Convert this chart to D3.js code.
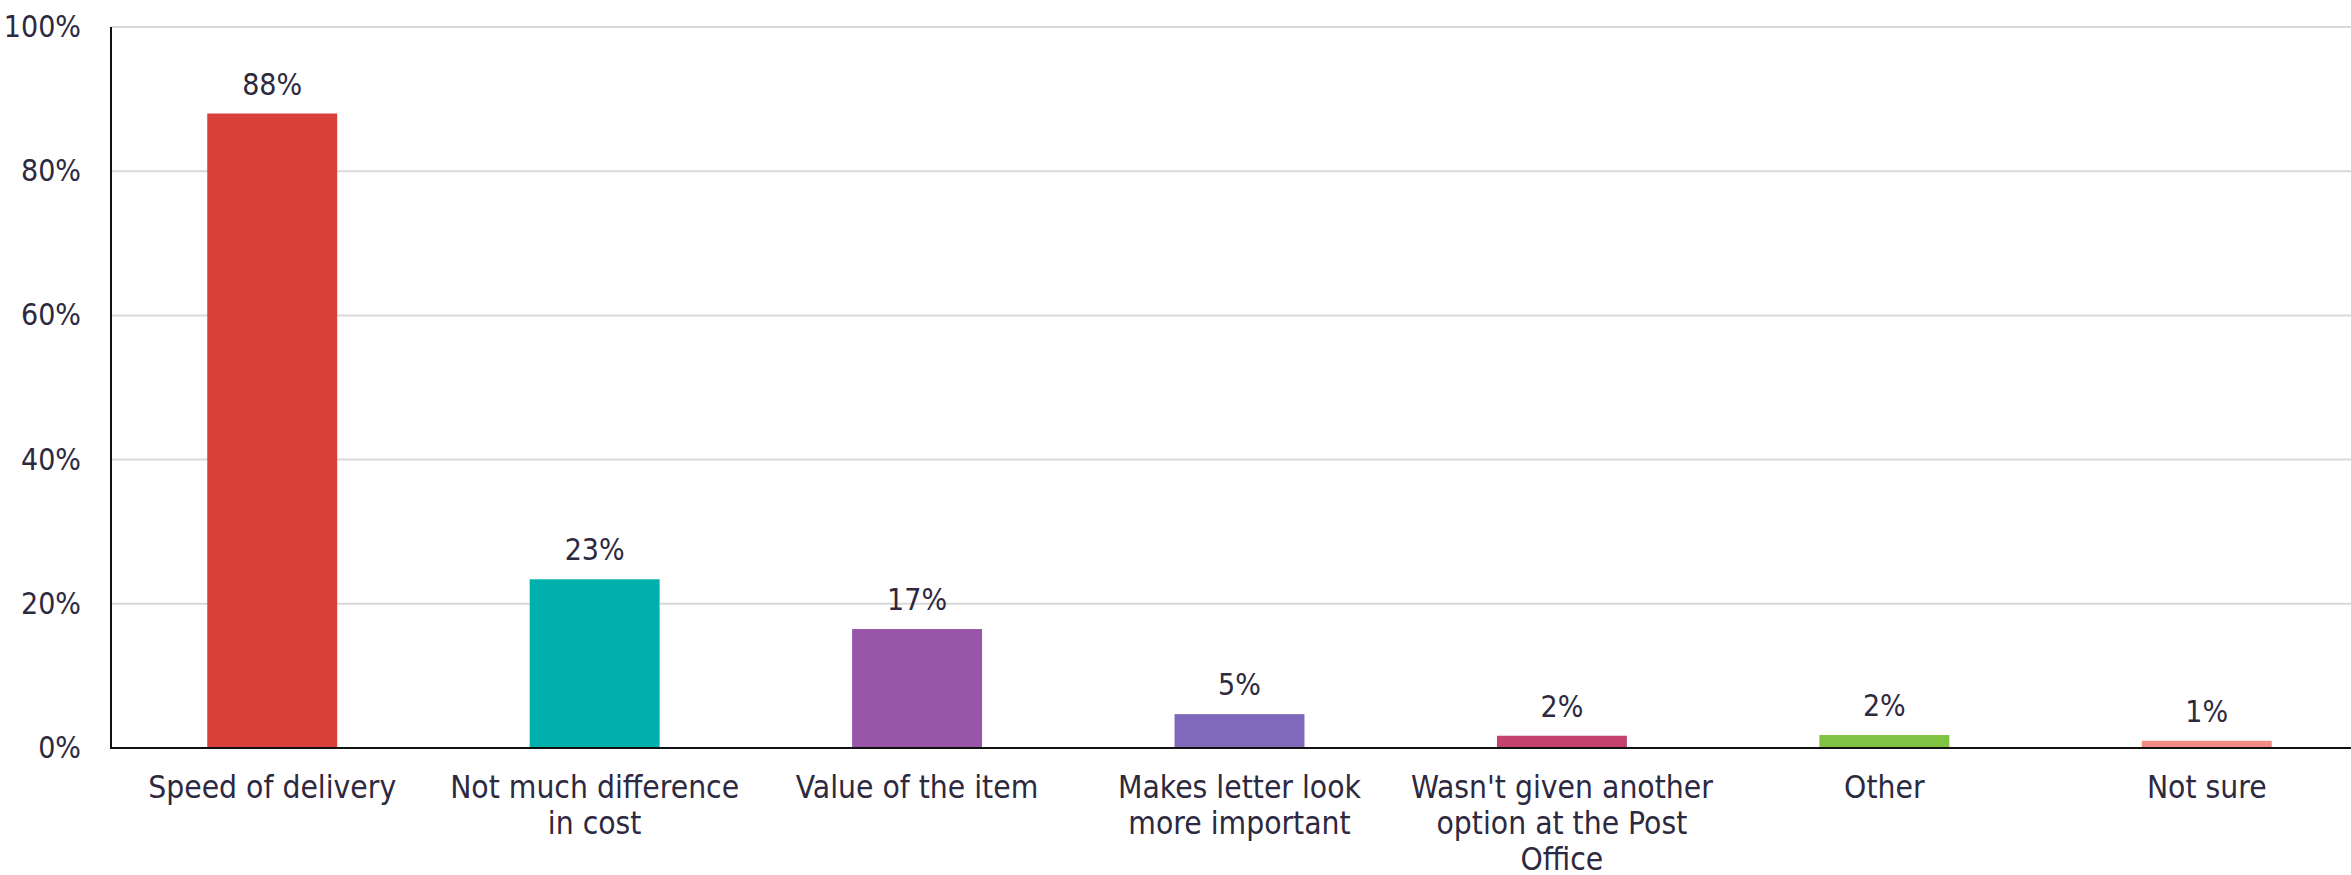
<!DOCTYPE html>
<html>
<head>
<meta charset="utf-8">
<script src="https://cdn.jsdelivr.net/npm/d3@7"></script>
<style>
  html, body { margin: 0; padding: 0; background: #ffffff; }
  svg { display: block; }
  text { font-family: "DejaVu Sans Condensed", "DejaVu Sans", sans-serif; fill: #2d2940; }
</style>
</head>
<body>
<svg id="chart" width="2351" height="875"></svg>
<script>
// ---- data ----
const categories = [
  "Speed of delivery",
  "Not much difference in cost",
  "Value of the item",
  "Makes letter look more important",
  "Wasn't given another option at the Post Office",
  "Other",
  "Not sure"
];
const categoryLines = [
  ["Speed of delivery"],
  ["Not much difference", "in cost"],
  ["Value of the item"],
  ["Makes letter look", "more important"],
  ["Wasn't given another", "option at the Post", "Office"],
  ["Other"],
  ["Not sure"]
];
const values = [88, 23.4, 16.5, 4.7, 1.7, 1.8, 1.0];
const valueLabels = ["88%", "23%", "17%", "5%", "2%", "2%", "1%"];
const barColors = ["#d9403a", "#00b0ad", "#9955a8", "#8069bb", "#c4426e", "#80c241", "#f28b85"];
const yTicks = [0, 20, 40, 60, 80, 100];
const yTickLabels = ["0%", "20%", "40%", "60%", "80%", "100%"];

// ---- layout ----
const svg = d3.select("#chart");
const plotLeft = 111, plotRight = 2368, viewRight = 2351, plotTop = 27, plotBottom = 748;
const fs = 30, catFs = 31.5;

const x = d3.scaleBand().domain(categories).range([plotLeft, plotRight]).padding(0);
const y = d3.scaleLinear().domain([0, 100]).range([plotBottom, plotTop]);
const barW = x.bandwidth() * 0.403;

// gridlines
svg.append("g").selectAll("line")
  .data(yTicks.filter(d => d > 0))
  .join("line")
  .attr("x1", plotLeft).attr("x2", viewRight)
  .attr("y1", d => y(d)).attr("y2", d => y(d))
  .attr("stroke", "#d9d9d9").attr("stroke-width", 2);

// y tick labels
svg.append("g").selectAll("text")
  .data(yTicks)
  .join("text")
  .attr("x", 81)
  .attr("y", d => y(d))
  .attr("dy", "0.33em")
  .attr("text-anchor", "end")
  .style("font-size", fs + "px")
  .text((d, i) => yTickLabels[i]);

// bars
svg.append("g").selectAll("rect")
  .data(values)
  .join("rect")
  .attr("x", (d, i) => x(categories[i]) + (x.bandwidth() - barW) / 2)
  .attr("y", d => y(d))
  .attr("width", barW)
  .attr("height", d => y(0) - y(d))
  .attr("fill", (d, i) => barColors[i]);

// value labels
svg.append("g").selectAll("text")
  .data(values)
  .join("text")
  .attr("x", (d, i) => x(categories[i]) + x.bandwidth() / 2)
  .attr("y", d => y(d) - 19)
  .attr("text-anchor", "middle")
  .style("font-size", fs + "px")
  .text((d, i) => valueLabels[i]);

// axis lines
svg.append("line")
  .attr("x1", plotLeft).attr("x2", plotLeft)
  .attr("y1", plotTop).attr("y2", plotBottom + 1)
  .attr("stroke", "#111").attr("stroke-width", 2);
svg.append("line")
  .attr("x1", plotLeft).attr("x2", viewRight)
  .attr("y1", plotBottom).attr("y2", plotBottom)
  .attr("stroke", "#111").attr("stroke-width", 2);

// category labels
const catG = svg.append("g").selectAll("text")
  .data(categories)
  .join("text")
  .attr("x", d => x(d) + x.bandwidth() / 2)
  .attr("y", 798)
  .attr("text-anchor", "middle")
  .style("font-size", catFs + "px");
catG.each(function(d, i) {
  const t = d3.select(this);
  categoryLines[i].forEach((line, j) => {
    t.append("tspan")
      .attr("x", x(d) + x.bandwidth() / 2)
      .attr("y", 798 + j * 36)
      .text(line);
  });
});
</script>
</body>
</html>
